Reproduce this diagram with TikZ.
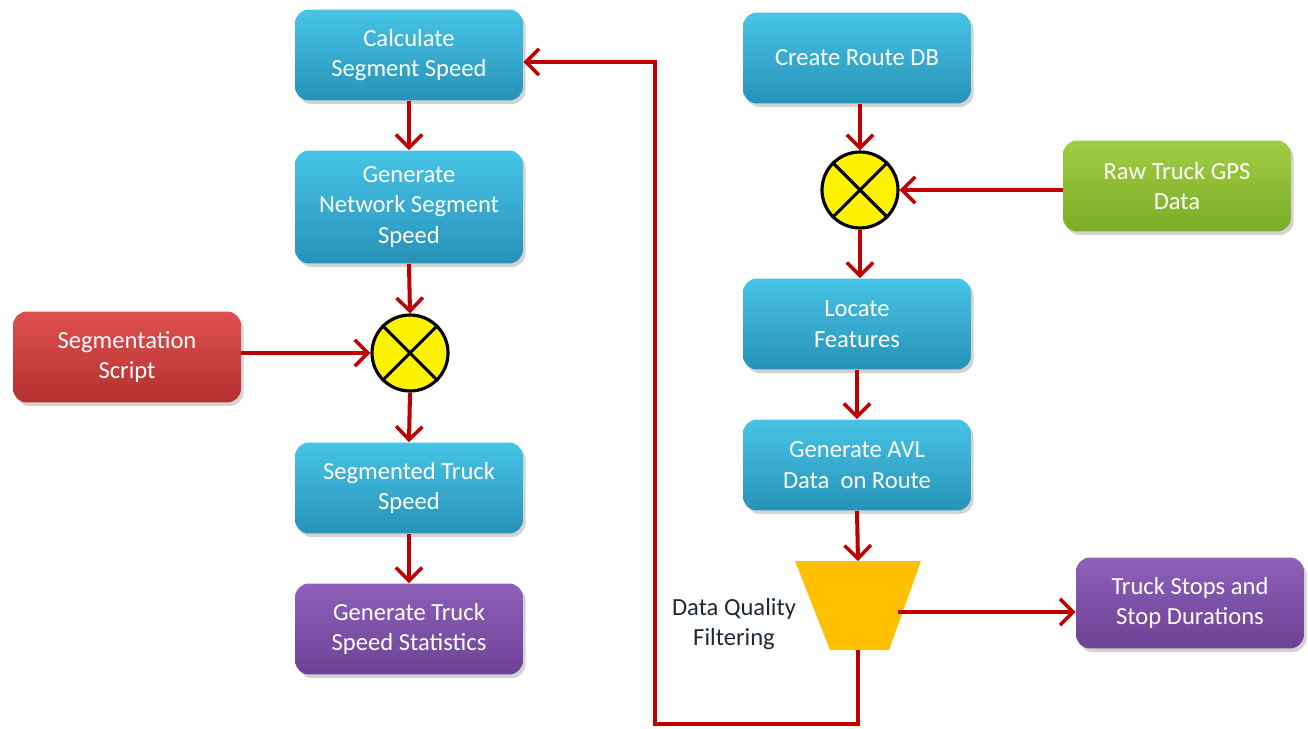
\documentclass[tikz,border=0pt]{standalone}
\usepackage{fontspec}
\setmainfont{Carlito}
\usetikzlibrary{arrows.meta,shadows}
\definecolor{arrred}{RGB}{192,0,0}
\definecolor{cyantop}{RGB}{70,196,230}
\definecolor{cyanbot}{RGB}{40,146,184}
\definecolor{redtop}{RGB}{222,80,78}
\definecolor{redbot}{RGB}{180,48,48}
\definecolor{greentop}{RGB}{160,206,66}
\definecolor{greenbot}{RGB}{124,172,40}
\definecolor{purtop}{RGB}{142,96,184}
\definecolor{purbot}{RGB}{108,66,150}
\definecolor{filtcol}{RGB}{255,192,0}
\definecolor{labcol}{RGB}{30,40,55}
\tikzset{
  procbox/.style={rounded corners=0.28cm, minimum width=4.56cm, minimum height=1.82cm,
    align=center, text=white, font=\fontsize{14}{17.5}\selectfont,
    drop shadow={shadow xshift=1.5pt, shadow yshift=-2pt, opacity=0.35}},
  cyanbox/.style={procbox, top color=cyantop, bottom color=cyanbot},
  redbox/.style={procbox, top color=redtop, bottom color=redbot},
  greenbox/.style={procbox, top color=greentop, bottom color=greenbot},
  purbox/.style={procbox, top color=purtop, bottom color=purbot},
  mixer/.style={circle, draw=black, line width=1.8pt, fill=yellow, minimum size=1.52cm, inner sep=0pt},
  conn/.style={draw=arrred, line width=2.3pt, -{Straight Barb[length=7.5pt,width=15pt,line width=2pt]}},
  line/.style={draw=arrred, line width=2.3pt}
}
\begin{document}
\begin{tikzpicture}[x=0.02cm,y=-0.02cm]
\useasboundingbox (0,0) rectangle (1308,729);
% left column
\node[cyanbox] (calc) at (409,55) {Calculate\\Segment Speed};
\node[cyanbox, minimum height=2.26cm] (gen) at (409,207) {Generate\\Network Segment\\Speed};
\node[mixer] (mixL) at (410,353) {};
\draw[line width=1.8pt] (mixL.north west) -- (mixL.south east) (mixL.north east) -- (mixL.south west);
\node[redbox] (seg) at (127,357) {Segmentation\\Script};
\node[cyanbox] (segt) at (409,488) {Segmented Truck\\Speed};
\node[purbox] (stats) at (409,629) {Generate Truck\\Speed Statistics};
% right column
\node[cyanbox] (route) at (857,58) {Create Route DB};
\node[mixer] (mixR) at (860,190) {};
\draw[line width=1.8pt] (mixR.north west) -- (mixR.south east) (mixR.north east) -- (mixR.south west);
\node[greenbox] (raw) at (1177,186) {Raw Truck GPS\\Data};
\node[cyanbox] (loc) at (857,324) {Locate\\Features};
\node[cyanbox] (avl) at (857,465) {Generate AVL\\Data\ \ on Route};
\node[purbox] (stops) at (1190,603) {Truck Stops\ and\\Stop Durations};
% filter trapezoid
\fill[filtcol] (795,561) -- (921,561) -- (889,650) -- (830,650) -- cycle;
\coordinate (ftop) at (858,561);
\coordinate (fbot) at (858,650);
\coordinate (fright) at (898,612);
\node[align=center, text=labcol, font=\fontsize{14}{17}\selectfont] (flab) at (734,624) {Data Quality\\Filtering};
% connectors
\draw[conn] (calc.south) -- (gen.north);
\draw[conn] (gen.south) -- (mixL.north);
\draw[conn] (seg.east |- mixL.west) -- (mixL.west);
\draw[conn] (mixL.south) -- (segt.north);
\draw[conn] (segt.south) -- (stats.north);
\draw[conn] (route.south -| mixR.north) -- (mixR.north);
\draw[conn] (raw.west |- mixR.east) -- (mixR.east);
\draw[conn] (mixR.south) -- (mixR.south |- loc.north);
\draw[conn] (loc.south) -- (avl.north);
\draw[conn] (avl.south) -- (ftop);
\draw[conn] (fright) -- (stops.west |- fright);
\coordinate (fb1) at (858,724);
\coordinate (fb2) at (655,724);
\coordinate (fb3) at (655,62);
\draw[conn] (fbot) -- (fb1) -- (fb2) -- (fb3) -- (calc.east |- fb3);
\end{tikzpicture}
\end{document}
